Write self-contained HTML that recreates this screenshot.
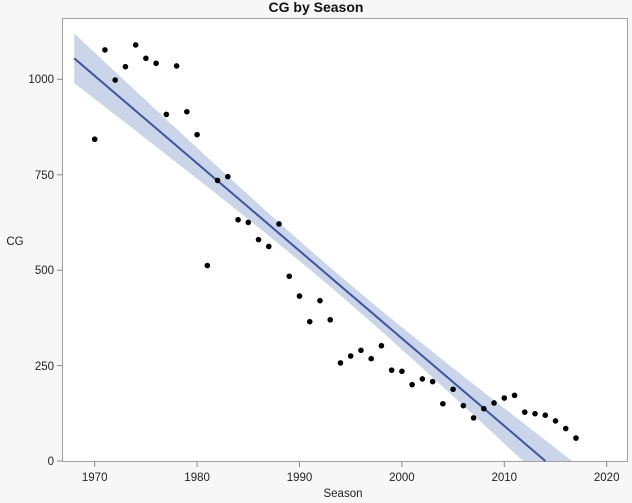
<!DOCTYPE html>
<html><head><style>
html,body{margin:0;padding:0;background:#f7f7f7;}
svg{display:block;font-family:"Liberation Sans",sans-serif;}
</style></head><body>
<svg id="s" width="632" height="503" viewBox="0 0 632 503" xmlns="http://www.w3.org/2000/svg">
<rect x="0" y="0" width="632" height="503" fill="#f7f7f7"/>
<rect x="62.5" y="18.5" width="565" height="443" fill="#fff" stroke="#a0a0a0" stroke-width="1"/>
<text x="316" y="12" text-anchor="middle" font-size="14" font-weight="bold" fill="#111">CG by Season</text>
<g font-size="11.5" fill="#222" text-anchor="end">
<text x="54" y="465">0</text>
<text x="54" y="370">250</text>
<text x="54" y="274">500</text>
<text x="54" y="179">750</text>
<text x="54" y="83">1000</text>
</g>
<g stroke="#888" stroke-width="1">
<line x1="57" y1="461" x2="62" y2="461"/><line x1="57" y1="365.6" x2="62" y2="365.6"/>
<line x1="57" y1="270.2" x2="62" y2="270.2"/><line x1="57" y1="174.8" x2="62" y2="174.8"/>
<line x1="57" y1="79.3" x2="62" y2="79.3"/>
<line x1="94.7" y1="462" x2="94.7" y2="467"/><line x1="197.1" y1="462" x2="197.1" y2="467"/>
<line x1="299.5" y1="462" x2="299.5" y2="467"/><line x1="401.9" y1="462" x2="401.9" y2="467"/>
<line x1="504.3" y1="462" x2="504.3" y2="467"/><line x1="606.7" y1="462" x2="606.7" y2="467"/>
</g>
<g font-size="11.5" fill="#222" text-anchor="middle">
<text x="94.7" y="481">1970</text><text x="197.1" y="481">1980</text>
<text x="299.5" y="481">1990</text><text x="401.9" y="481">2000</text>
<text x="504.3" y="481">2010</text><text x="606.7" y="481">2020</text>
<text x="343" y="497">Season</text>
<text x="15" y="245">CG</text>
</g>
<g id="plot"></g>
</svg>
<script>
var X=function(y){return 94.7+(y-1970)*10.24};
var Y=function(v){return 461-v*0.3817};
var L=function(y){return 1055-(y-1968)*22.93};
var H=function(y){return Math.sqrt(625+5.54*Math.pow(y-1993.5,2))};
var up=[],dn=[];
for(var y=1968;y<=2017;y+=0.25){
 var lo=L(y)-H(y), hi=L(y)+H(y);
 if(hi<0)break;
 up.push(X(y).toFixed(1)+","+Y(hi).toFixed(1));
 if(lo>=0)dn.unshift(X(y).toFixed(1)+","+Y(lo).toFixed(1));
}
// close band at bottom axis
var yb=1968;while(L(yb)-H(yb)>0)yb+=0.05;
var ye=1968;while(L(ye)+H(ye)>0)ye+=0.05;
var pts=up.concat([X(ye).toFixed(1)+",461",X(yb).toFixed(1)+",461"]).concat(dn);
var g=document.getElementById("plot"),ns="http://www.w3.org/2000/svg";
var p=document.createElementNS(ns,"polygon");p.setAttribute("points",pts.join(" "));p.setAttribute("fill","#cbd5ea");g.appendChild(p);
var l=document.createElementNS(ns,"line");
var yz=1968+1055/22.93;
l.setAttribute("x1",X(1968));l.setAttribute("y1",Y(1055));l.setAttribute("x2",X(yz));l.setAttribute("y2",461);
l.setAttribute("stroke","#3b55a0");l.setAttribute("stroke-width","2");g.appendChild(l);
var d=[843,1077,998,1033,1090,1055,1042,908,1035,915,855,512,735,745,632,625,580,562,621,484,432,365,420,370,257,275,290,268,302,238,235,200,215,208,150,188,145,113,137,152,165,172,128,124,120,105,85,60];
for(var i=0;i<d.length;i++){var c=document.createElementNS(ns,"circle");c.setAttribute("cx",X(1970+i));c.setAttribute("cy",Y(d[i]));c.setAttribute("r","2.8");c.setAttribute("fill","#000");g.appendChild(c);}
</script>
</body></html>
